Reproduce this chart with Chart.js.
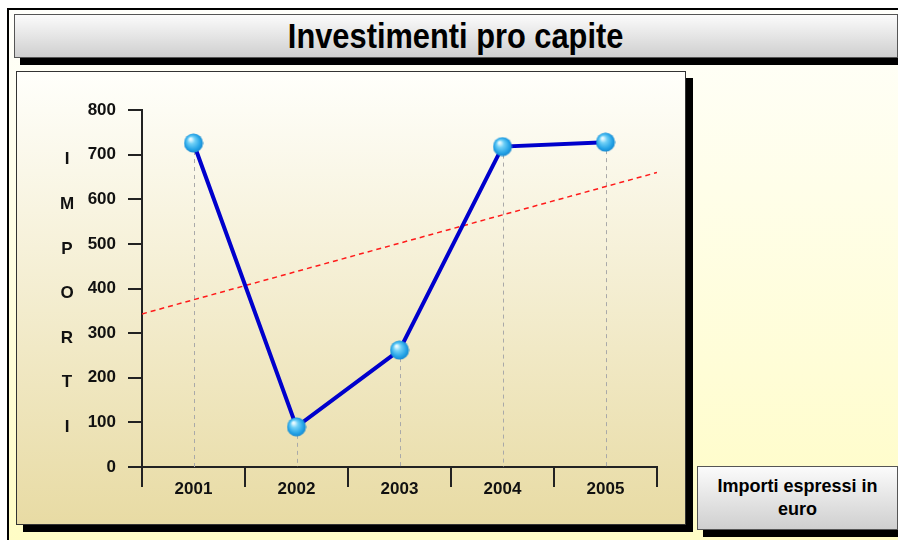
<!DOCTYPE html>
<html>
<head>
<meta charset="utf-8">
<script src="https://cdn.jsdelivr.net/npm/chart.js@4.4.1/dist/chart.umd.min.js"></script>
<style>
  body {
    margin: 0;
    width: 898px;
    height: 540px;
    overflow: hidden;
    position: relative;
    background: #fff;
    font-family: "Liberation Sans", Arial, sans-serif;
  }
  #frame {
    position: absolute;
    left: 7px;
    top: 8px;
    width: 900px;
    height: 540px;
    border-left: 2px solid #000;
    border-top: 2px solid #000;
    background: linear-gradient(#fffffb, #fffcc4);
  }
  #title {
    position: absolute;
    left: 14px;
    top: 14px;
    width: 884px;
    height: 44px;
    box-sizing: border-box;
    border: 1px solid #555;
    background: linear-gradient(#fbfbfb, #cfcfcf);
    box-shadow: 6px 7px 0 #000;
    display: flex;
    align-items: center;
    justify-content: center;
  }
  #title span {
    font-weight: bold;
    font-size: 35px;
    color: #000;
    transform: scaleX(0.88);
    white-space: nowrap;
  }
  #panel {
    position: absolute;
    left: 16px;
    top: 71px;
    width: 670px;
    height: 454px;
    box-sizing: border-box;
    border: 1px solid #333;
    background: linear-gradient(#fffffb, #e8dba4);
    box-shadow: 7px 7px 0 #000;
  }
  #chart {
    position: absolute;
    left: 0;
    top: 0;
  }
  #note {
    position: absolute;
    left: 697px;
    top: 466px;
    width: 201px;
    height: 64px;
    box-sizing: border-box;
    border: 1px solid #555;
    background: linear-gradient(#fbfbfb, #cfcfcf);
    box-shadow: 6px 7px 0 #000;
    display: flex;
    align-items: center;
    justify-content: center;
    text-align: center;
    font-weight: bold;
    font-size: 18px;
    line-height: 23px;
    color: #000;
  }
</style>
</head>
<body>
<div id="frame"></div>
<div id="title"><span>Investimenti pro capite</span></div>
<div id="panel"><canvas id="chart" width="668" height="452"></canvas></div>
<div id="note">Importi espressi in<br>euro</div>

<script>
const years = ["2001", "2002", "2003", "2004", "2005"];
const importi = [726, 90, 262, 718, 728];
// trend line, at the left and right edge of the axis
const trendX = [0.5, 5.5];
const trendY = [343, 660];
const yTicks = { min: 0, max: 800, step: 100 };
const sideLetters = ["I", "M", "P", "O", "R", "T", "I"];

// shiny blue ball used as point marker
const ball = document.createElement("canvas");
ball.width = 20;
ball.height = 20;
const bctx = ball.getContext("2d");
const grad = bctx.createRadialGradient(7, 6, 1, 10, 10, 10);
grad.addColorStop(0, "#e6f9ff");
grad.addColorStop(0.3, "#6fd0f7");
grad.addColorStop(0.75, "#23a2e6");
grad.addColorStop(1, "#1585cc");
bctx.fillStyle = grad;
bctx.beginPath();
bctx.arc(10, 10, 9.5, 0, Math.PI * 2);
bctx.fill();

const dropLines = {
  id: "dropLines",
  beforeDatasetsDraw(chart) {
    const ctx = chart.ctx;
    const bottom = chart.chartArea.bottom;
    ctx.save();
    ctx.strokeStyle = "#a9a9a9";
    ctx.lineWidth = 1;
    ctx.setLineDash([4, 4]);
    chart.getDatasetMeta(0).data.forEach((p) => {
      ctx.beginPath();
      ctx.moveTo(Math.round(p.x) + 0.5, p.y);
      ctx.lineTo(Math.round(p.x) + 0.5, bottom);
      ctx.stroke();
    });
    ctx.restore();
  },
};

const sideTitle = {
  id: "sideTitle",
  afterDraw(chart) {
    const ctx = chart.ctx;
    const y = chart.scales.y;
    ctx.save();
    ctx.font = "bold 17px 'Liberation Sans', Arial, sans-serif";
    ctx.fillStyle = "#111";
    ctx.textAlign = "center";
    ctx.textBaseline = "middle";
    sideLetters.forEach((l, i) => {
      ctx.fillText(l, 50, y.getPixelForValue(700 - i * 100) + 5);
    });
    ctx.restore();
  },
};

const tickFont = { family: "'Liberation Sans', Arial, sans-serif", size: 17, weight: "bold" };

const myChart = new Chart(document.querySelector("#chart"), {
  type: "line",
  data: {
    datasets: [
      {
        data: importi.map((v, i) => ({ x: i + 1, y: v })),
        borderColor: "#0000cc",
        borderWidth: 4,
        pointStyle: ball,
        pointRadius: 10,
        tension: 0,
        order: 0,
      },
      {
        data: trendX.map((x, i) => ({ x, y: trendY[i] })),
        borderColor: "#ff1a1a",
        borderWidth: 1.5,
        borderDash: [5, 4],
        pointRadius: 0,
        order: 1,
      },
    ],
  },
  options: {
    responsive: false,
    animation: false,
    layout: { padding: { left: 0, top: 38, right: 28, bottom: 0 } },
    plugins: { legend: { display: false }, tooltip: { enabled: false } },
    scales: {
      x: {
        type: "linear",
        min: 0.5,
        max: 5.5,
        afterFit: (s) => { s.height = 57; },
        ticks: {
          stepSize: 0.5,
          autoSkip: false,
          maxRotation: 0,
          padding: -8,
          color: "#111",
          font: tickFont,
          callback: (v) => (Number.isInteger(v) ? years[v - 1] : ""),
        },
        grid: {
          drawOnChartArea: false,
          tickLength: 20,
          lineWidth: 2,
          tickColor: (c) => (c.tick && Number.isInteger(c.tick.value) ? "rgba(0,0,0,0)" : "#222"),
        },
        border: { color: "#222", width: 2 },
      },
      y: {
        min: yTicks.min,
        max: yTicks.max,
        afterFit: (s) => { s.width = 125; },
        ticks: { stepSize: yTicks.step, padding: 12, color: "#111", font: tickFont },
        grid: { drawOnChartArea: false, tickLength: 14, lineWidth: 2, tickColor: "#222" },
        border: { color: "#222", width: 2 },
      },
    },
  },
  plugins: [dropLines, sideTitle],
});
</script>
</body>
</html>
